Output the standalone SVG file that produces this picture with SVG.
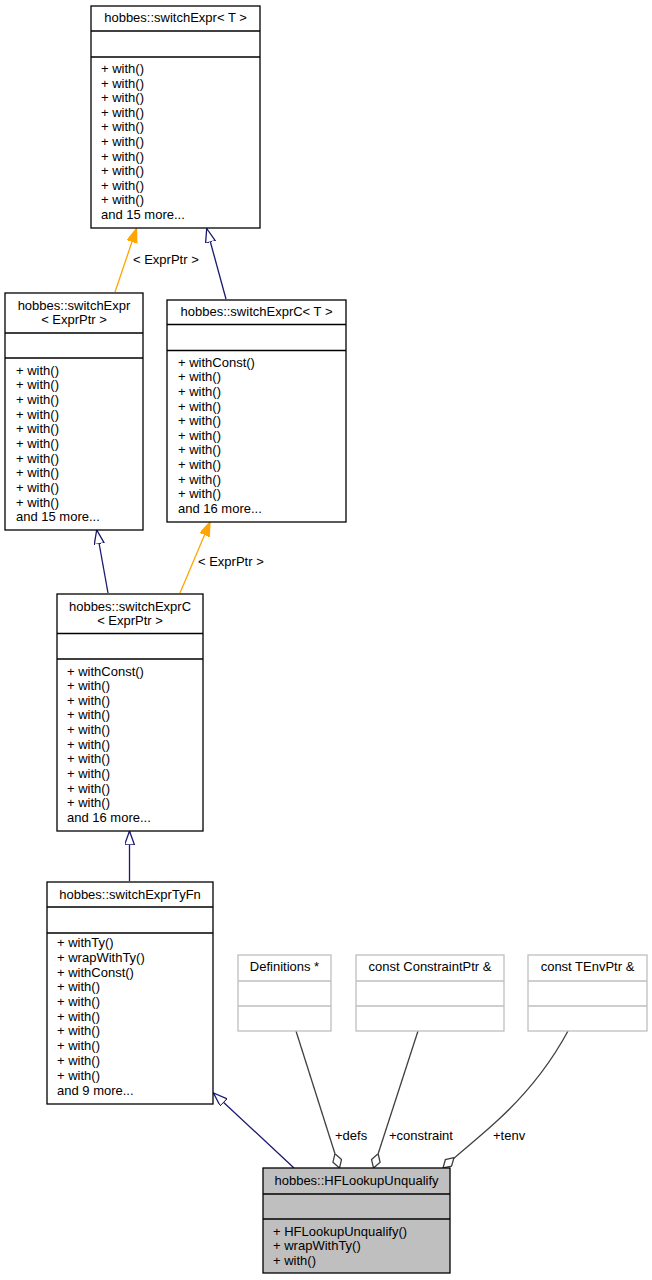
<svg xmlns="http://www.w3.org/2000/svg" width="652" height="1280" viewBox="0 0 652 1280">
<style>
text{font-family:"Liberation Sans",Arial,sans-serif;font-size:13px;fill:#000}
.c{text-anchor:middle}
.box{fill:#fff;stroke:#000;stroke-width:1.3}
.gbox{fill:#fff;stroke:#bfbfbf;stroke-width:1.3}
.cur{fill:#bfbfbf;stroke:#000;stroke-width:1.3}
.sep{stroke:#000;stroke-width:1.3}
.gsep{stroke:#bfbfbf;stroke-width:1.3}
.navy{fill:none;stroke:#191970;stroke-width:1.3}
.orange{fill:none;stroke:#ffa500;stroke-width:1.3}
.gray{fill:none;stroke:#404040;stroke-width:1.3}
</style>
<defs>
<marker id="aNavy" markerUnits="userSpaceOnUse" markerWidth="16" markerHeight="12" refX="14" refY="5" orient="auto">
<path d="M0,0 L14,5 L0,10 z" fill="#fff" stroke="#191970" stroke-width="1.3"/>
</marker>
<marker id="aOrange" markerUnits="userSpaceOnUse" markerWidth="16" markerHeight="12" refX="14" refY="5" orient="auto">
<path d="M0,0 L14,5 L0,10 z" fill="#ffa500" stroke="#ffa500" stroke-width="1.3"/>
</marker>
<marker id="dia" markerUnits="userSpaceOnUse" markerWidth="18" markerHeight="12" refX="15" refY="5" orient="auto">
<path d="M0,5 L7.5,0.5 L15,5 L7.5,9.5 z" fill="#fff" stroke="#404040" stroke-width="1.3"/>
</marker>
</defs>

<g id="connectors">
<line class="orange" x1="115" y1="292" x2="136.5" y2="228.5" marker-end="url(#aOrange)"/>
<text x="133" y="264">&lt; ExprPtr &gt;</text>
<line class="navy" x1="226" y1="299" x2="206.7" y2="228.5" marker-end="url(#aNavy)"/>
<line class="navy" x1="108" y1="593" x2="96.7" y2="530" marker-end="url(#aNavy)"/>
<line class="orange" x1="180" y1="593" x2="210" y2="522" marker-end="url(#aOrange)"/>
<text x="198" y="565.5">&lt; ExprPtr &gt;</text>
<line class="navy" x1="129.5" y1="881" x2="129.5" y2="831" marker-end="url(#aNavy)"/>
<line class="navy" x1="294" y1="1168" x2="213.5" y2="1093" marker-end="url(#aNavy)"/>
<line class="gray" x1="296" y1="1031" x2="339.5" y2="1168" marker-end="url(#dia)"/>
<text x="335" y="1139.5">+defs</text>
<line class="gray" x1="418" y1="1031" x2="373.5" y2="1168" marker-end="url(#dia)"/>
<text x="389" y="1139.5">+constraint</text>
<path class="gray" d="M568,1031 C548,1068 522,1098 498,1120 C480,1137 460,1152 443,1168" marker-end="url(#dia)"/>
<text x="493" y="1139.5">+tenv</text>
</g>

<g id="switchExpr_T">
<rect class="box" x="91" y="6" width="169" height="222"/>
<line class="sep" x1="91" y1="31" x2="260" y2="31"/>
<line class="sep" x1="91" y1="57" x2="260" y2="57"/>
<text class="c" x="175.5" y="21.5">hobbes::switchExpr&lt; T &gt;</text>
<text x="101" y="73">+ with()</text>
<text x="101" y="87.6">+ with()</text>
<text x="101" y="102.2">+ with()</text>
<text x="101" y="116.8">+ with()</text>
<text x="101" y="131.4">+ with()</text>
<text x="101" y="146">+ with()</text>
<text x="101" y="160.6">+ with()</text>
<text x="101" y="175.2">+ with()</text>
<text x="101" y="189.8">+ with()</text>
<text x="101" y="204.4">+ with()</text>
<text x="101" y="219">and 15 more...</text>
</g>

<g id="switchExpr_ExprPtr">
<rect class="box" x="5" y="293" width="138" height="237"/>
<line class="sep" x1="5" y1="333" x2="143" y2="333"/>
<line class="sep" x1="5" y1="358" x2="143" y2="358"/>
<text class="c" x="74" y="309.5">hobbes::switchExpr</text>
<text class="c" x="74" y="323.8">&lt; ExprPtr &gt;</text>
<text x="16" y="374.5">+ with()</text>
<text x="16" y="389.2">+ with()</text>
<text x="16" y="403.8">+ with()</text>
<text x="16" y="418.5">+ with()</text>
<text x="16" y="433.2">+ with()</text>
<text x="16" y="447.8">+ with()</text>
<text x="16" y="462.5">+ with()</text>
<text x="16" y="477.2">+ with()</text>
<text x="16" y="491.8">+ with()</text>
<text x="16" y="506.5">+ with()</text>
<text x="16" y="521.2">and 15 more...</text>
</g>

<g id="switchExprC_T">
<rect class="box" x="167" y="300" width="179" height="222"/>
<line class="sep" x1="167" y1="324.5" x2="346" y2="324.5"/>
<line class="sep" x1="167" y1="350.5" x2="346" y2="350.5"/>
<text class="c" x="256.5" y="316.2">hobbes::switchExprC&lt; T &gt;</text>
<text x="178" y="366.8">+ withConst()</text>
<text x="178" y="381.4">+ with()</text>
<text x="178" y="396">+ with()</text>
<text x="178" y="410.6">+ with()</text>
<text x="178" y="425.2">+ with()</text>
<text x="178" y="439.8">+ with()</text>
<text x="178" y="454.4">+ with()</text>
<text x="178" y="469">+ with()</text>
<text x="178" y="483.6">+ with()</text>
<text x="178" y="498.2">+ with()</text>
<text x="178" y="512.8">and 16 more...</text>
</g>

<g id="switchExprC_ExprPtr">
<rect class="box" x="57" y="594" width="146" height="237"/>
<line class="sep" x1="57" y1="633.5" x2="203" y2="633.5"/>
<line class="sep" x1="57" y1="659" x2="203" y2="659"/>
<text class="c" x="130" y="610.5">hobbes::switchExprC</text>
<text class="c" x="130" y="624.5">&lt; ExprPtr &gt;</text>
<text x="67" y="675.5">+ withConst()</text>
<text x="67" y="690.1">+ with()</text>
<text x="67" y="704.8">+ with()</text>
<text x="67" y="719.4">+ with()</text>
<text x="67" y="734">+ with()</text>
<text x="67" y="748.7">+ with()</text>
<text x="67" y="763.3">+ with()</text>
<text x="67" y="777.9">+ with()</text>
<text x="67" y="792.5">+ with()</text>
<text x="67" y="807.2">+ with()</text>
<text x="67" y="821.8">and 16 more...</text>
</g>

<g id="switchExprTyFn">
<rect class="box" x="47" y="882" width="166" height="222"/>
<line class="sep" x1="47" y1="907" x2="213" y2="907"/>
<line class="sep" x1="47" y1="933" x2="213" y2="933"/>
<text class="c" x="130" y="898.8">hobbes::switchExprTyFn</text>
<text x="57" y="947.2">+ withTy()</text>
<text x="57" y="961.9">+ wrapWithTy()</text>
<text x="57" y="976.6">+ withConst()</text>
<text x="57" y="991.3">+ with()</text>
<text x="57" y="1006">+ with()</text>
<text x="57" y="1020.7">+ with()</text>
<text x="57" y="1035.4">+ with()</text>
<text x="57" y="1050.1">+ with()</text>
<text x="57" y="1064.8">+ with()</text>
<text x="57" y="1079.5">+ with()</text>
<text x="57" y="1094.5">and 9 more...</text>
</g>

<g id="Definitions">
<rect class="gbox" x="238" y="955" width="93" height="76"/>
<line class="gsep" x1="238" y1="981" x2="331" y2="981"/>
<line class="gsep" x1="238" y1="1006" x2="331" y2="1006"/>
<text class="c" x="284.5" y="970.5">Definitions *</text>
</g>

<g id="ConstraintPtr">
<rect class="gbox" x="356" y="955" width="148" height="76"/>
<line class="gsep" x1="356" y1="981" x2="504" y2="981"/>
<line class="gsep" x1="356" y1="1006" x2="504" y2="1006"/>
<text class="c" x="430" y="970.5">const ConstraintPtr &amp;</text>
</g>

<g id="TEnvPtr">
<rect class="gbox" x="528" y="955" width="119" height="76"/>
<line class="gsep" x1="528" y1="981" x2="647" y2="981"/>
<line class="gsep" x1="528" y1="1006" x2="647" y2="1006"/>
<text class="c" x="587.5" y="970.5">const TEnvPtr &amp;</text>
</g>

<g id="HFLookupUnqualify">
<rect class="cur" x="263" y="1168" width="187" height="105"/>
<line class="sep" x1="263" y1="1194" x2="450" y2="1194"/>
<line class="sep" x1="263" y1="1219" x2="450" y2="1219"/>
<text class="c" x="356.5" y="1184.5">hobbes::HFLookupUnqualify</text>
<text x="273" y="1235.5">+ HFLookupUnqualify()</text>
<text x="273" y="1250.2">+ wrapWithTy()</text>
<text x="273" y="1265">+ with()</text>
</g>
</svg>
